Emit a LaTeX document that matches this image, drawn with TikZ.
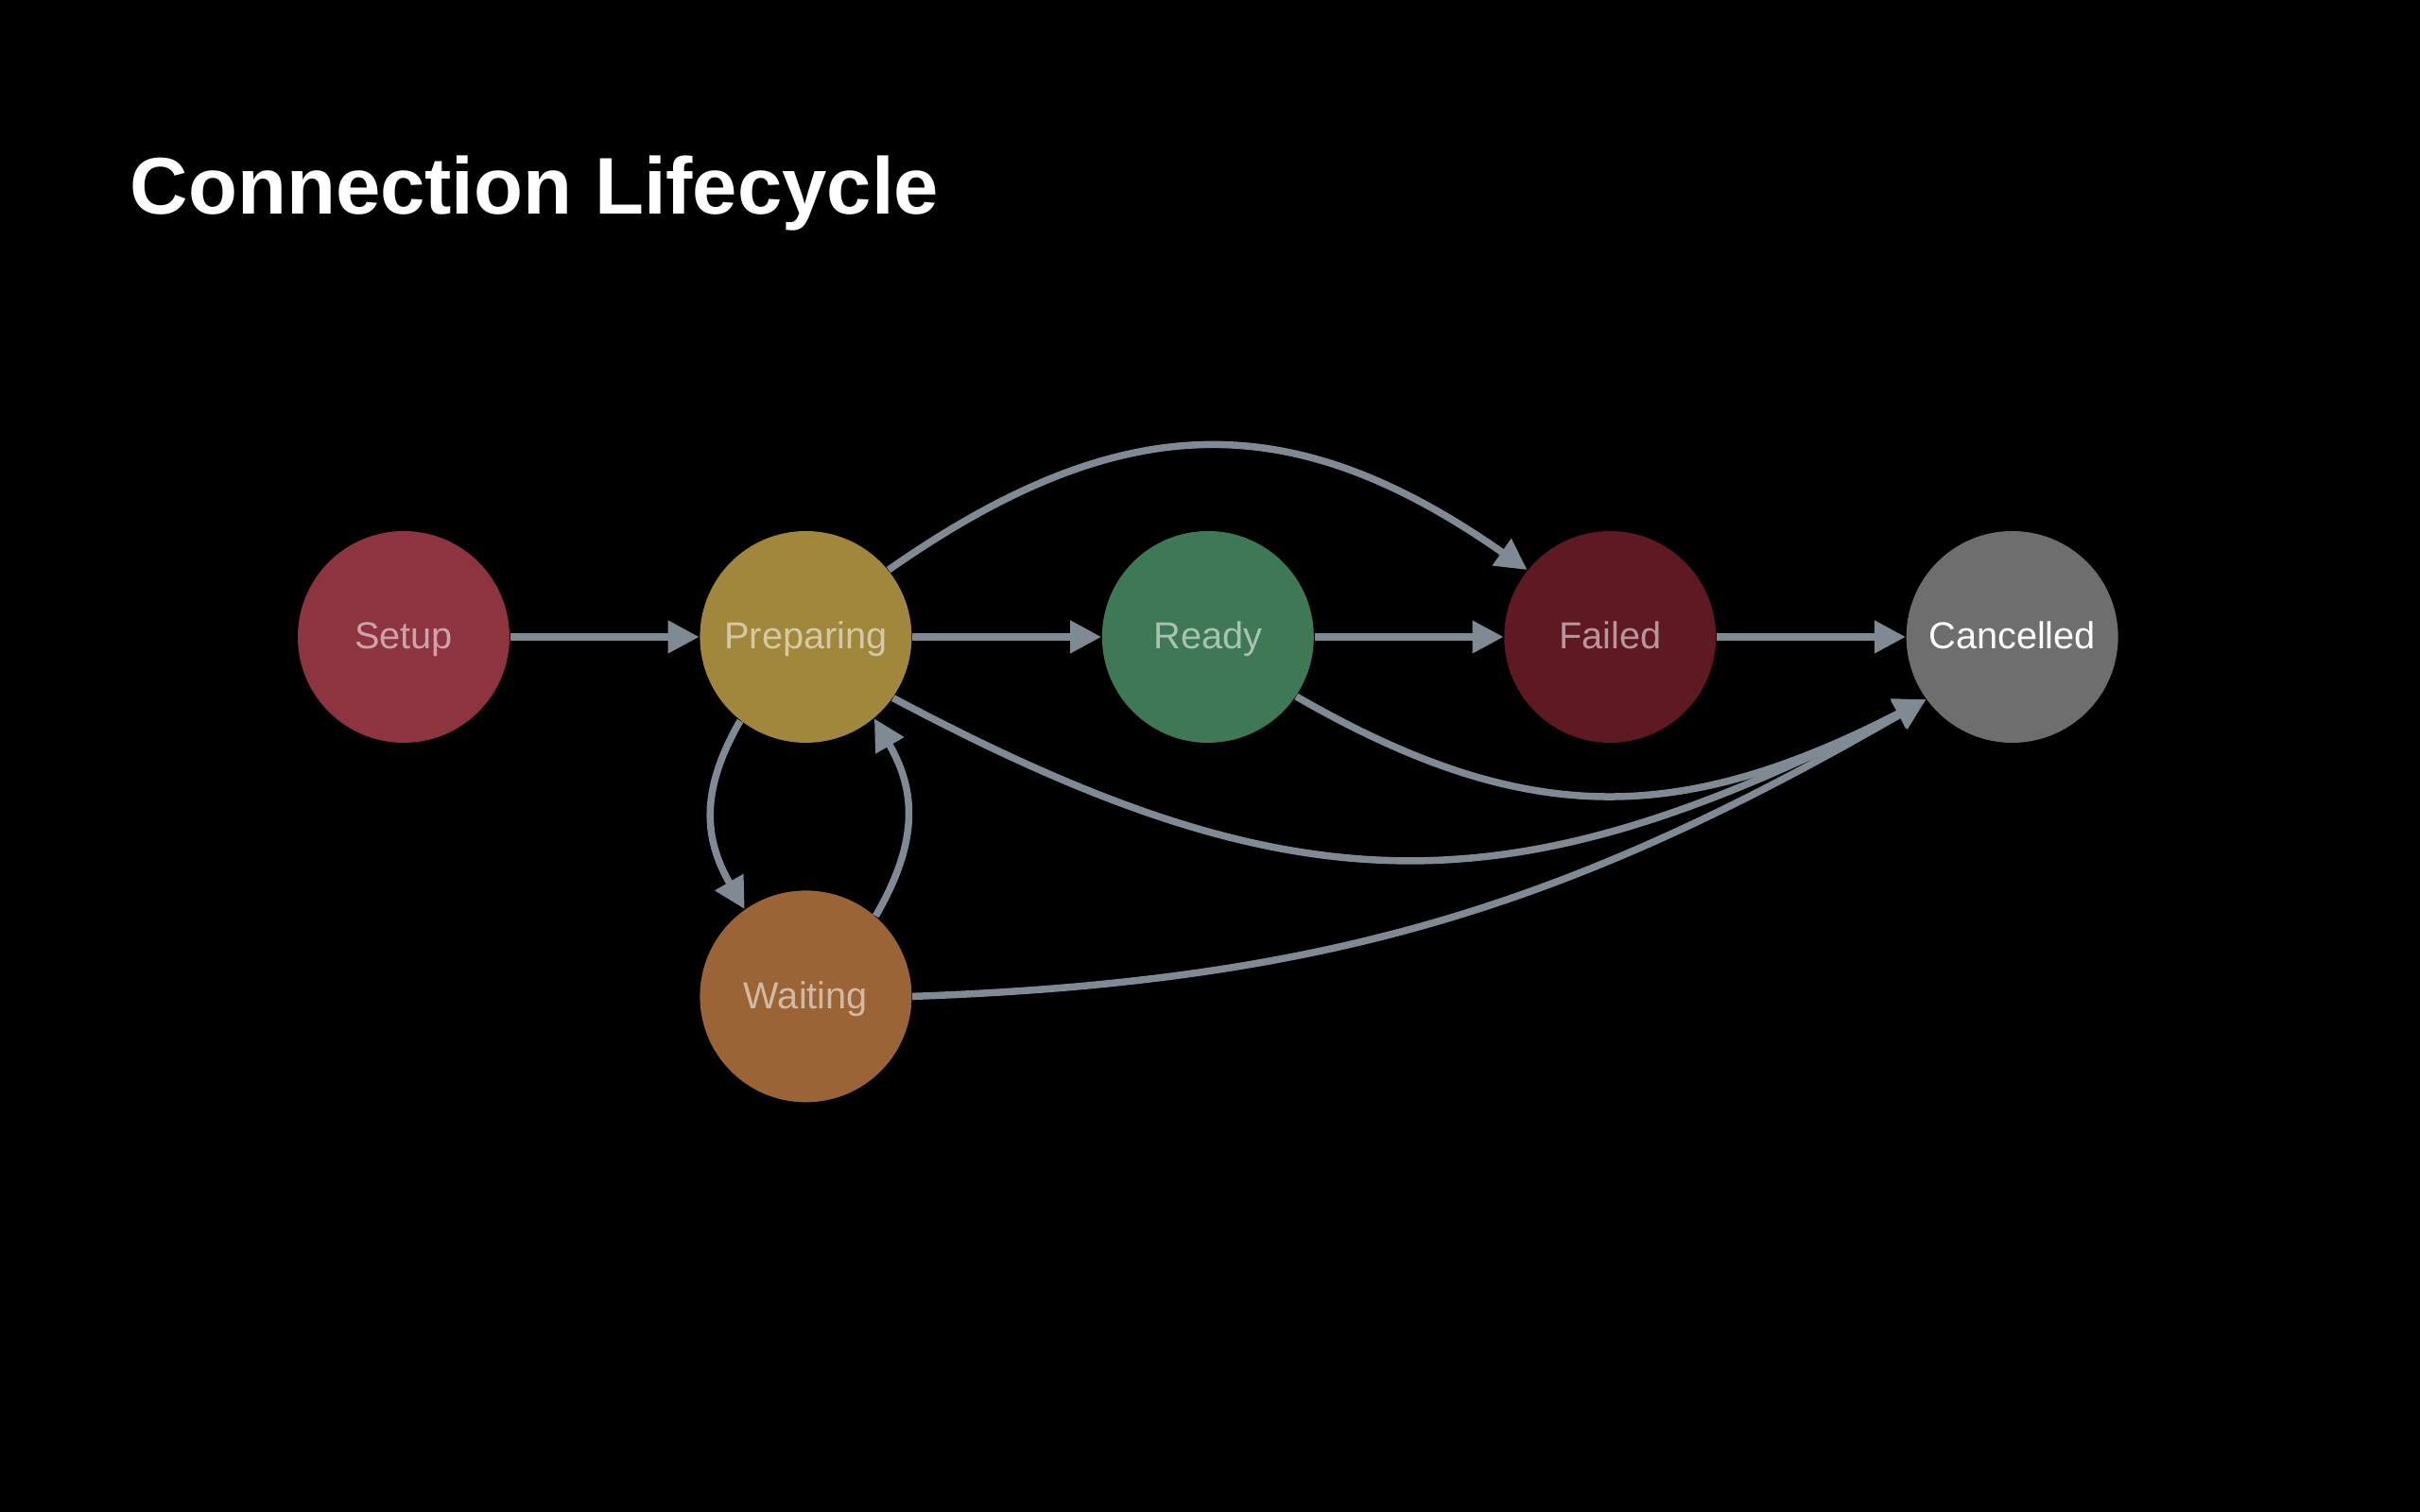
\documentclass[tikz,border=0pt]{standalone}
\usepackage{fontspec}
\setmainfont{Liberation Sans}
\usepackage{tikz}
\usetikzlibrary{arrows.meta, positioning}
\definecolor{mysetup}{RGB}{142,52,64}
\definecolor{myprep}{RGB}{160,135,60}
\definecolor{myready}{RGB}{62,120,85}
\definecolor{myfailed}{RGB}{95,25,35}
\definecolor{mycanc}{RGB}{110,110,110}
\definecolor{mywait}{RGB}{155,100,55}
\definecolor{myarrow}{RGB}{128,138,148}
\tikzset{
  sstate/.style={circle, minimum size=2.24cm, inner sep=0pt,
    text height=0.31cm, text depth=0.05cm,
    font=\fontsize{11.3}{13}\selectfont, text=white, text opacity=0.55},
  arrow/.style={-{Triangle[length=0.33cm, width=0.33cm]}, line width=0.075cm, color=myarrow}
}

\begin{document}
\begin{tikzpicture}[node distance=2.0cm]
  \fill[black] (0,0) rectangle (25.6,16);

  % Title
  \node[anchor=base west, inner sep=0pt, text=white,
    font=\fontsize{24.2}{28}\selectfont\bfseries] (title) at (1.37,13.73) {Connection Lifecycle};

  % States
  \node[sstate, fill=mysetup] (setup) at (4.27,9.26) {Setup};
  \node[sstate, fill=myprep] (prep) [right=of setup] {Preparing};
  \node[sstate, fill=myready] (ready) [right=of prep] {Ready};
  \node[sstate, fill=myfailed] (fail) [right=of ready] {Failed};
  \node[sstate, fill=mycanc, text opacity=1] (canc) [right=of fail] {Cancelled};
  \node[sstate, fill=mywait] (wait) [below=1.55cm of prep] {Waiting};

  % Main line
  \draw[arrow] (setup) -- (prep);
  \draw[arrow] (prep) -- (ready);
  \draw[arrow] (ready) -- (fail);
  \draw[arrow] (fail) -- (canc);

  % Preparing <-> Waiting
  \draw[arrow] (prep.232) to[out=240, in=120, looseness=1.1] (wait.125);
  \draw[arrow] (wait.49) to[out=60, in=-60, looseness=1.1] (prep.-50);

  % Failures and cancels
  \draw[arrow] (prep.39) to[out=35, in=145, looseness=1.15] (fail.141);
  \draw[arrow] (ready.-34) to[out=-30, in=207, looseness=1.1] (canc.216);
  \draw[arrow] (prep.-35) to[out=-28, in=207, looseness=1.15] (canc.216);
  \draw[arrow] (wait.east) to[out=2, in=210] (canc.216);
\end{tikzpicture}
\end{document}
